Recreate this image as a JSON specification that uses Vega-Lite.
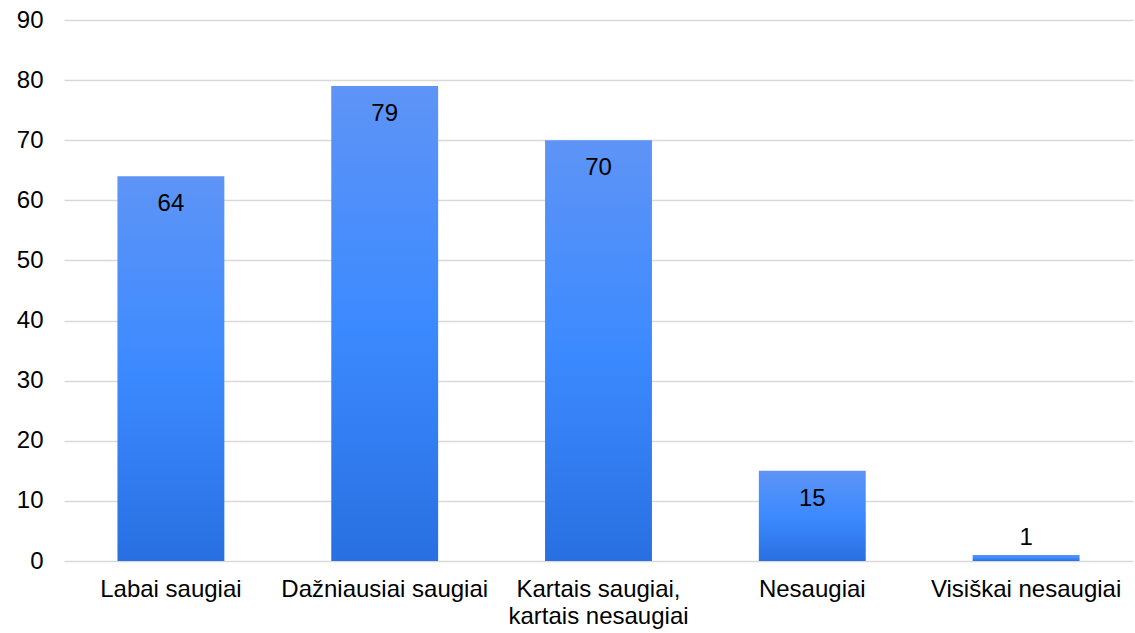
{
  "$schema": "https://vega.github.io/schema/vega-lite/v6.json",
  "autosize": "none",
  "width": 1069,
  "height": 541,
  "padding": {"left": 64, "top": 20, "right": 2, "bottom": 72},
  "background": "white",
  "config": {
    "font": "Liberation Sans",
    "view": {"stroke": null}
  },
  "data": {
    "values": [
      {"kategorija": "Labai saugiai", "reiksme": 64},
      {"kategorija": "Dažniausiai saugiai", "reiksme": 79},
      {"kategorija": "Kartais saugiai, kartais nesaugiai", "reiksme": 70},
      {"kategorija": "Nesaugiai", "reiksme": 15},
      {"kategorija": "Visiškai nesaugiai", "reiksme": 1}
    ]
  },
  "encoding": {
    "x": {
      "field": "kategorija",
      "type": "nominal",
      "sort": null,
      "scale": {"paddingInner": 0.5, "paddingOuter": 0.25},
      "axis": {
        "title": null,
        "labelAngle": 0,
        "labelFontSize": 24,
        "labelColor": "#000000",
        "labelPadding": 16,
        "labelLineHeight": 27,
        "labelLimit": 0,
        "labelOverlap": false,
        "ticks": false,
        "domain": false,
        "labelExpr": "datum.value == 'Kartais saugiai, kartais nesaugiai' ? ['Kartais saugiai,', 'kartais nesaugiai'] : datum.value"
      }
    },
    "y": {
      "field": "reiksme",
      "type": "quantitative",
      "scale": {"domain": [0, 90], "nice": false},
      "axis": {
        "title": null,
        "values": [0, 10, 20, 30, 40, 50, 60, 70, 80, 90],
        "labelFontSize": 24,
        "labelColor": "#000000",
        "labelPadding": 21,
        "ticks": false,
        "domain": false,
        "gridColor": "#d9d9d9",
        "gridWidth": 1.5
      }
    }
  },
  "layer": [
    {
      "mark": {
        "type": "bar",
        "color": {
          "gradient": "linear",
          "x1": 0, "y1": 0, "x2": 0, "y2": 1,
          "stops": [
            {"offset": 0, "color": "#5e94f6"},
            {"offset": 0.5, "color": "#3c8aff"},
            {"offset": 1, "color": "#2870e2"}
          ]
        }
      }
    },
    {
      "transform": [{"filter": "datum.reiksme > 5"}],
      "mark": {"type": "text", "baseline": "top", "dy": 16, "fontSize": 24, "color": "#000000"},
      "encoding": {"text": {"field": "reiksme", "type": "quantitative"}}
    },
    {
      "transform": [{"filter": "datum.reiksme <= 5"}],
      "mark": {"type": "text", "baseline": "bottom", "dy": -5, "fontSize": 24, "color": "#000000"},
      "encoding": {"text": {"field": "reiksme", "type": "quantitative"}}
    }
  ]
}
